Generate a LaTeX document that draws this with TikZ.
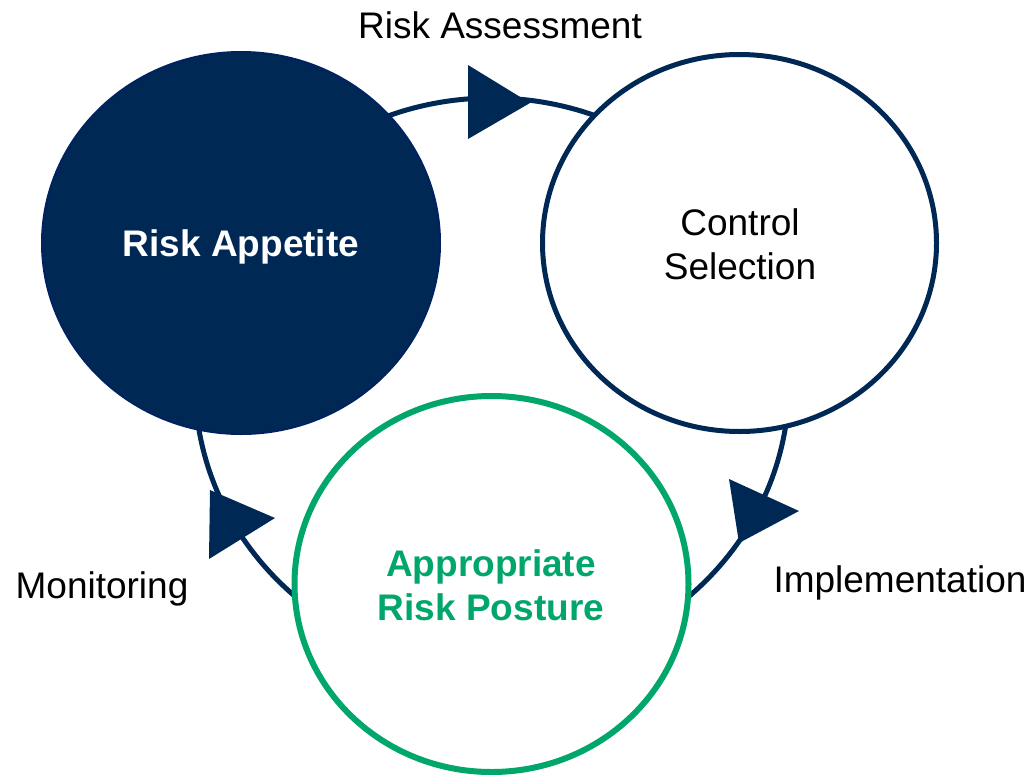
\documentclass[tikz,border=0pt]{standalone}
\usepackage{fontspec}
\setmainfont{Liberation Sans}
\usetikzlibrary{shapes.geometric}
\definecolor{navy}{RGB}{0,40,85}
\definecolor{navyline}{RGB}{0,34,96}
\definecolor{rgreen}{RGB}{0,166,106}
\begin{document}
\begin{tikzpicture}[x=1pt,y=-1pt,
  bub/.style={ellipse, inner sep=0pt, outer sep=0pt},
  lbl/.style={font=\fontsize{37}{44}\selectfont, anchor=base, inner sep=0pt},
  tri/.style={fill=navy, draw=none},
  cyc/.style={draw=navy, line width=5pt}]
\useasboundingbox (0,0) rectangle (1030,774);
% cycle
\draw[cyc] (492,383) ellipse [x radius=297pt, y radius=285pt];
% bubbles
\node[bub, fill=navy, draw=navyline, line width=2pt, minimum width=398pt, minimum height=382pt] (appetite) at (241,243) {};
\node[bub, fill=white, draw=navy, line width=5pt, minimum width=394pt, minimum height=377pt] (control) at (739.5,243) {};
\node[bub, fill=white, draw=rgreen, line width=6pt, minimum width=394pt, minimum height=376pt] (posture) at (491.5,584) {};
% arrowheads
\fill[tri] (468,65) -- (468,139) -- (530,103) -- cycle;
\fill[tri] (729,479) -- (739,543) -- (799,511) -- cycle;
\fill[tri] (210,490) -- (209,559) -- (275,518) -- cycle;
% texts
\node[lbl, text=white, font=\fontsize{37}{44}\selectfont\bfseries] (tapp) at (241,256) {Risk Appetite};
\node[lbl] (tctl1) at (740,235) {Control};
\node[lbl] (tctl2) at (740,279) {Selection};
\node[lbl, text=rgreen, font=\fontsize{37}{44}\selectfont\bfseries] (tpos1) at (491,576) {Appropriate};
\node[lbl, text=rgreen, font=\fontsize{37}{44}\selectfont\bfseries] (tpos2) at (491,620) {Risk Posture};
\node[lbl] (tassess) at (500,38) {Risk Assessment};
\node[lbl] (timpl) at (900,592) {Implementation};
\node[lbl] (tmon) at (102,598) {Monitoring};
\end{tikzpicture}
\end{document}
